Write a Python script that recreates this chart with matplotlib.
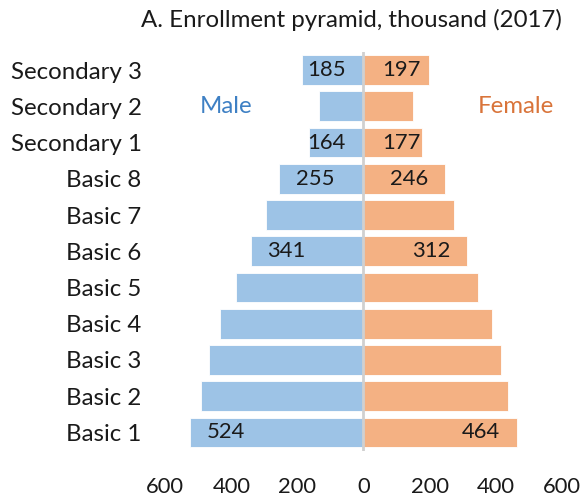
import matplotlib
matplotlib.use("Agg")
import matplotlib.pyplot as plt

categories = ["Basic 1", "Basic 2", "Basic 3", "Basic 4", "Basic 5", "Basic 6",
              "Basic 7", "Basic 8", "Secondary 1", "Secondary 2", "Secondary 3"]
male = [524, 491, 467, 435, 385, 341, 296, 255, 164, 135, 185]
female = [464, 437, 416, 390, 347, 312, 275, 246, 177, 149, 197]
labeled = ["Basic 1", "Basic 6", "Basic 8", "Secondary 1", "Secondary 3"]
xticks = [-600, -400, -200, 0, 200, 400, 600]
xticklabels = ["600", "400", "200", "0", "200", "400", "600"]
title = "A. Enrollment pyramid, thousand (2017)"

plt.rcParams['font.family'] = ['Lato', 'DejaVu Sans']
FS = 15.8   # digits
FT = 17.3   # words
TXT = '#1a1a1a'
W = 'normal'

fig = plt.figure(figsize=(5.82, 4.99), dpi=100)
ax = fig.add_axes([0.284, 0.097, 0.681, 0.799])

y = list(range(len(categories)))
ax.barh(y, [-m for m in male], height=0.82, color='#9DC3E6', edgecolor='white', linewidth=0.6)
ax.barh(y, female, height=0.82, color='#F4B183', edgecolor='white', linewidth=0.6)
ax.axvline(0, color='#D0D0D0', lw=2, zorder=5)

ax.set_xlim(-600, 600)
ax.set_ylim(-0.5, len(categories) - 0.5)
ax.set_xticks(xticks)
ax.set_xticklabels(xticklabels, fontweight=W)
ax.set_yticks(y)
ax.set_yticklabels(categories, fontweight=W)
ax.tick_params(axis='x', length=0, pad=19, labelsize=FS, labelcolor=TXT)
ax.tick_params(axis='y', length=0, pad=17, labelsize=FT, labelcolor=TXT)
for s in ax.spines.values():
    s.set_visible(False)

# data labels
tw = 119  # approx text width in data units
for i, c in enumerate(categories):
    if c in labeled:
        m = male[i]
        xl = min(-m + 50, -50 - tw)
        ax.text(xl, i, str(m), ha='left', va='center', fontsize=FS, color=TXT, zorder=6, fontweight=W)
        f = female[i]
        xr = max(f - 50, 55 + tw)
        ax.text(xr, i, str(f), ha='right', va='center', fontsize=FS, color=TXT, zorder=6, fontweight=W)

ax.text(-415, 9, "Male", ha='center', va='center', fontsize=FT, color='#3E80C4', fontweight=W)
ax.text(461, 9, "Female", ha='center', va='center', fontsize=FT, color='#D9743A', fontweight=W)

fig.text(0.966, 0.96, title, ha='right', va='center', fontsize=FT, color=TXT, fontweight=W)

fig.savefig("out.png", dpi=100)
